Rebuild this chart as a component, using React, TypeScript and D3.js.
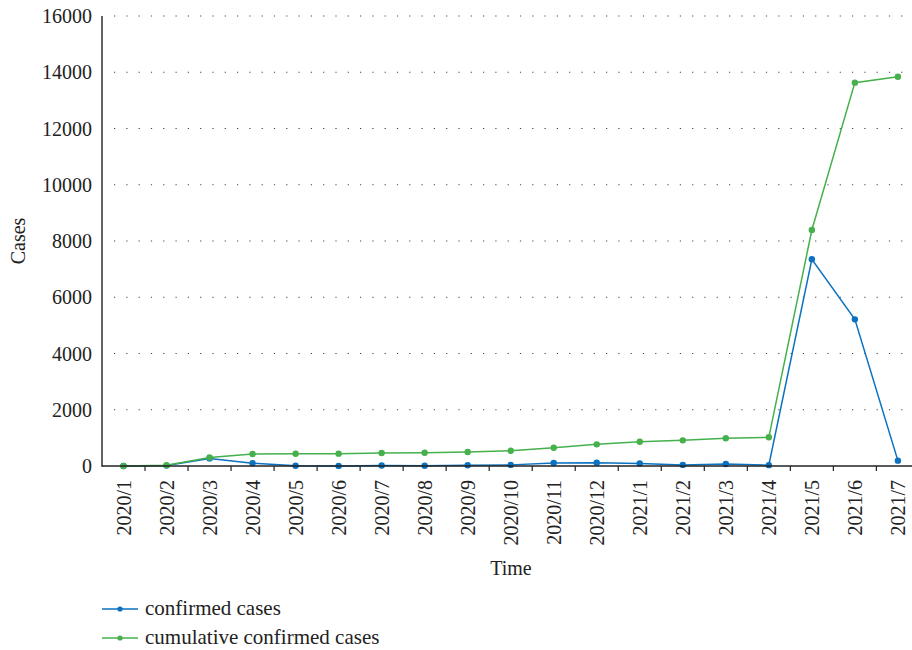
import React from "react";
import * as d3 from "d3";

const months = [
  "2020/1", "2020/2", "2020/3", "2020/4", "2020/5", "2020/6", "2020/7", "2020/8", "2020/9", "2020/10",
  "2020/11", "2020/12", "2021/1", "2021/2", "2021/3", "2021/4", "2021/5", "2021/6", "2021/7",
];
const confirmed = [0, 15, 270, 100, 10, 3, 20, 10, 25, 40, 105, 115, 90, 40, 70, 30, 7350, 5215, 190];
const cumulative = [0, 30, 305, 425, 435, 440, 460, 472, 497, 540, 650, 770, 862, 912, 985, 1020, 8390, 13630, 13840];
const yTicks = [0, 2000, 4000, 6000, 8000, 10000, 12000, 14000, 16000];

const W = 912;
const H = 650;
const BLUE = "#0a72c0";
const GREEN = "#45b04c";
const FONT = "Liberation Serif";

export default function App() {
  const x = d3.scaleBand<string>().domain(months).range([102, 919.4]).padding(0);
  const y = d3.scaleLinear().domain([0, 16000]).range([466, 16]);
  const cx = (m: string) => (x(m) as number) + x.bandwidth() / 2;
  const line = d3
    .line<number>()
    .x((_, i) => cx(months[i]))
    .y((d) => y(d));

  const series = [
    { name: "confirmed cases", values: confirmed, color: BLUE },
    { name: "cumulative confirmed cases", values: cumulative, color: GREEN },
  ];
  const ts = { fontFamily: FONT };

  return (
    <svg
      width={W}
      height={H}
      style={{ position: "absolute", left: 0, top: 0, background: "#fff", fontFamily: FONT }}
    >
      {yTicks.filter((t) => t > 0).map((t) => (
        <line
          key={"g" + t}
          x1={114}
          x2={W}
          y1={y(t)}
          y2={y(t)}
          stroke="#444"
          strokeWidth={1.1}
          strokeDasharray="1.2 11.1"
        />
      ))}
      {yTicks.map((t) => (
        <text key={"yl" + t} x={92} y={y(t)} dy="0.35em" textAnchor="end" fontSize={20} fill="#222" style={ts}>
          {t}
        </text>
      ))}
      {months.slice(1).map((m) => (
        <line key={"xt" + m} x1={x(m) as number} x2={x(m) as number} y1={466} y2={471} stroke="#222" strokeWidth={1.2} />
      ))}
      {months.map((m) => (
        <text
          key={"xl" + m}
          transform={`translate(${cx(m)},480) rotate(-90)`}
          textAnchor="end"
          dy="0.35em"
          fontSize={20}
          fill="#222"
          style={ts}
        >
          {m}
        </text>
      ))}
      {series.map((s) => (
        <g key={s.name}>
          <path d={line(s.values) || ""} fill="none" stroke={s.color} strokeWidth={1.5} />
          {s.values.map((v, i) => (
            <circle key={i} cx={cx(months[i])} cy={y(v)} r={3.2} fill={s.color} />
          ))}
        </g>
      ))}
      <line x1={102} x2={102} y1={16} y2={466.7} stroke="#222" strokeWidth={1.4} />
      <line x1={102} x2={W} y1={466} y2={466} stroke="#222" strokeWidth={1.4} />
      <text transform="translate(18,241) rotate(-90)" textAnchor="middle" dy="0.35em" fontSize={20} fill="#222" style={ts}>
        Cases
      </text>
      <text x={511} y={568} dy="0.35em" textAnchor="middle" fontSize={20} fill="#222" style={ts}>
        Time
      </text>
      {series.map((s, i) => {
        const ly = 609 + i * 29;
        return (
          <g key={"lg" + s.name}>
            <line x1={102} x2={138} y1={ly} y2={ly} stroke={s.color} strokeWidth={1.5} />
            <circle cx={120} cy={ly} r={2.6} fill={s.color} />
            <text x={145} y={ly} dy="0.3em" fontSize={21} fill="#222" style={ts}>
              {s.name}
            </text>
          </g>
        );
      })}
    </svg>
  );
}
